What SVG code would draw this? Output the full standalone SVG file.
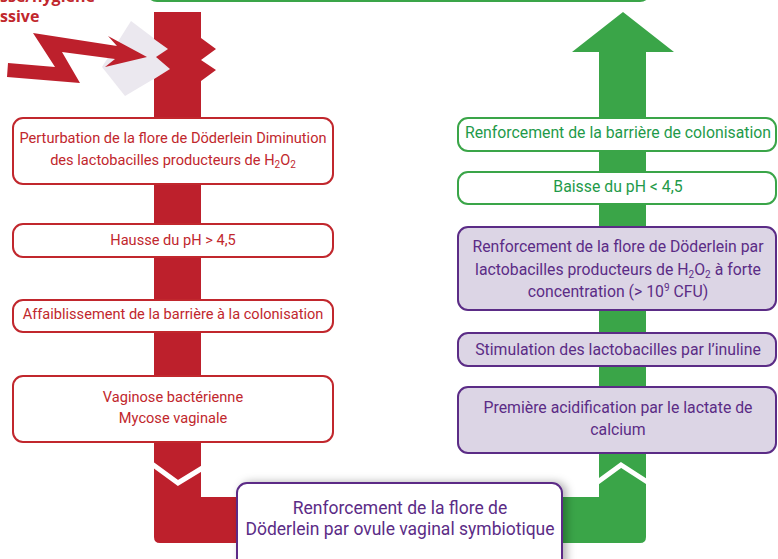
<svg xmlns="http://www.w3.org/2000/svg" width="778" height="559" viewBox="0 0 778 559">
<defs>
<style>
.t{font-family:Roboto,"Liberation Sans",sans-serif;font-size:14.6px;text-anchor:middle}
.r{font-size:15.8px}
.tr{fill:#c1272d}.tg{fill:#1f9a4a}.tp{fill:#5b2c86}
.br{fill:#fff;stroke:#c1272d;stroke-width:2}
.bg{fill:#fff;stroke:#3aa548;stroke-width:2}
.bp{fill:#dcd5e5;stroke:#5b2c86;stroke-width:2}
.chev{fill:none;stroke:#fff;stroke-width:5}
.hd{font-family:'Open Sans','Liberation Sans',sans-serif;font-weight:bold;font-size:16px;fill:#c1272d}
</style>
<filter id="sh" x="-10%" y="-20%" width="130%" height="150%">
<feDropShadow dx="4" dy="0" stdDeviation="4" flood-color="#000" flood-opacity="0.3"/>
</filter>
</defs>
<rect width="778" height="559" fill="#fff"/>
<g id="top-box"><rect x="147" y="-40" width="503" height="41" rx="10" class="bg"/></g>
<g id="trigger">
<text class="hd" x="0" y="2">sse/hygiène</text>
<text class="hd" x="0" y="22">ssive</text>
<polygon points="131,21 184,61 125,96 102,67" fill="#ebe8ef"/>
<polygon points="8,63 55,67 33,33 117,46 108,36 147,57 105,67 115,59 62,52 80,83 7,77" fill="#bd202c"/>
</g>
<g id="connectors">
<path d="M154,12 H201 V38 L216,49 L201,60 L216,70 L201,81 V497 H400 V543 H160 Q154,543 154,537 V79 L170,69 L156,57 L168,49 L154,39 Z" fill="#bd202c"/>
<path d="M599,52 H572 L623,12 L674,52 H646 V537 Q646,543 640,543 H400 V497 H599 Z" fill="#3aa548"/>
<polyline class="chev" points="152,464 178,483 209,464"/>
<polyline class="chev" points="595,484 621,465 652,485"/>
</g>
<g id="n1"><rect x="13" y="118" width="320" height="66" rx="10" class="br"/>
<text class="t tr" x="173" y="143">Perturbation de la flore de Döderlein Diminution</text>
<text class="t tr" x="173" y="165">des lactobacilles producteurs de H<tspan font-size="10" dy="3">2</tspan><tspan dy="-3">O</tspan><tspan font-size="10" dy="3">2</tspan></text></g>
<g id="n2"><rect x="13" y="224" width="320" height="33" rx="10" class="br"/>
<text class="t tr" x="173" y="245">Hausse du pH &gt; 4,5</text></g>
<g id="n3"><rect x="13" y="300" width="320" height="32" rx="10" class="br"/>
<text class="t tr" x="173" y="319">Affaiblissement de la barrière à la colonisation</text></g>
<g id="n4"><rect x="13" y="376" width="320" height="66" rx="10" class="br"/>
<text class="t tr" x="173" y="402">Vaginose bactérienne</text>
<text class="t tr" x="173" y="423">Mycose vaginale</text></g>
<g id="n5"><rect x="458" y="118" width="318" height="33" rx="10" class="bg"/>
<text class="t r tg" x="618" y="138">Renforcement de la barrière de colonisation</text></g>
<g id="n6"><rect x="458" y="172" width="318" height="32" rx="10" class="bg"/>
<text class="t r tg" x="618" y="192">Baisse du pH &lt; 4,5</text></g>
<g id="n7"><rect x="458" y="227" width="318" height="83" rx="10" class="bp"/>
<text class="t r tp" x="618" y="252">Renforcement de la flore de Döderlein par</text>
<text class="t r tp" x="618" y="275">lactobacilles producteurs de H<tspan font-size="10" dy="3">2</tspan><tspan dy="-3">O</tspan><tspan font-size="10" dy="3">2</tspan><tspan dy="-3"> à forte</tspan></text>
<text class="t r tp" x="618" y="297">concentration (&gt; 10<tspan font-size="10" dy="-6">9</tspan><tspan dy="6"> CFU)</tspan></text></g>
<g id="n8"><rect x="458" y="333" width="318" height="33" rx="10" class="bp"/>
<text class="t r tp" x="618" y="355">Stimulation des lactobacilles par l’inuline</text></g>
<g id="n9"><rect x="458" y="387" width="318" height="66" rx="10" class="bp"/>
<text class="t r tp" x="618" y="413">Première acidification par le lactate de</text>
<text class="t r tp" x="618" y="435">calcium</text></g>
<g id="n10"><rect x="237" y="483" width="325" height="100" rx="10" fill="#fff" stroke="#5b2c86" stroke-width="2" filter="url(#sh)"/>
<text class="t tp" x="400" y="514" style="font-size:17.5px">Renforcement de la flore de</text>
<text class="t tp" x="400" y="535" style="font-size:17.5px">Döderlein par ovule vaginal symbiotique</text></g>
</svg>
